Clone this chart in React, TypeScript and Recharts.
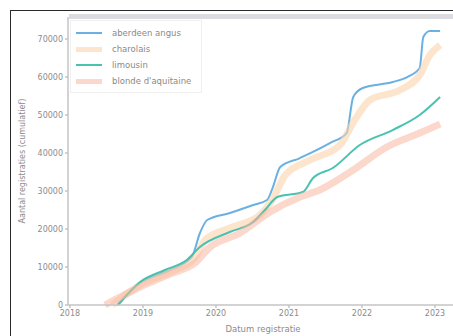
import React from 'react';
import { LineChart, Line, XAxis, YAxis } from 'recharts';

// series (decimal years, cumulative counts)
const angusYears = [2018.64, 2018.96, 2019.37, 2019.67, 2019.78, 2019.88, 2020.19, 2020.51, 2020.7, 2020.78, 2020.88, 2021.15, 2021.56, 2021.79, 2021.88, 2022.01, 2022.42, 2022.62, 2022.79, 2022.84, 2022.93, 2023.07];
const angusValues = [0, 5790, 9210, 12630, 18950, 22370, 24210, 26320, 27630, 31050, 36320, 38680, 42630, 45260, 54740, 57110, 58680, 60000, 62370, 70530, 72110, 72110];

const charolaisYears = [2018.58, 2018.96, 2019.37, 2019.71, 2019.85, 2020.19, 2020.6, 2020.77, 2020.95, 2021.29, 2021.7, 2021.9, 2022.11, 2022.52, 2022.79, 2022.93, 2023.07];
const charolaisValues = [0, 5260, 8680, 12370, 17110, 20260, 23680, 27630, 34210, 38160, 42110, 48680, 53950, 56580, 60530, 65790, 68420];

const limousinYears = [2018.66, 2018.96, 2019.3, 2019.6, 2019.78, 2020.19, 2020.51, 2020.67, 2020.84, 2021.19, 2021.33, 2021.6, 2021.97, 2022.42, 2022.79, 2023.07];
const limousinValues = [0, 6050, 9210, 11840, 15260, 19210, 21840, 25000, 28420, 29740, 33420, 36050, 42110, 46050, 50000, 54740];

const blondeYears = [2018.48, 2018.96, 2019.37, 2019.71, 2019.92, 2020.33, 2020.74, 2021.15, 2021.42, 2021.88, 2022.34, 2022.79, 2023.07];
const blondeValues = [0, 4740, 8160, 11050, 15260, 18950, 24470, 28420, 30260, 35530, 41580, 45260, 47630];

const xTicks = [2018, 2019, 2020, 2021, 2022, 2023];
const yTicks = [0, 10000, 20000, 30000, 40000, 50000, 60000, 70000];

const toPoints = (xs: number[], ys: number[]) => xs.map((x, i) => ({ x, y: ys[i] }));

const SERIES = [
  { name: 'aberdeen angus', data: toPoints(angusYears, angusValues), color: '#62ace0', width: 2, opacity: 0.95 },
  { name: 'charolais', data: toPoints(charolaisYears, charolaisValues), color: '#fcd3ab', width: 7, opacity: 0.6 },
  { name: 'limousin', data: toPoints(limousinYears, limousinValues), color: '#3fbfad', width: 2, opacity: 0.95 },
  { name: "blonde d'aquitaine", data: toPoints(blondeYears, blondeValues), color: '#f8b7a2', width: 7, opacity: 0.55 },
];

const FONT = '"DejaVu Sans", sans-serif';
const TICK = { fontSize: 8, fill: '#8c8c8c', fontFamily: FONT };

function LegendBox() {
  return (
    <div
      style={{
        position: 'absolute',
        left: 70,
        top: 20,
        border: '1px solid #f0f0f0',
        background: 'rgba(255,255,255,0.85)',
        padding: '4px 10px 3px 5px',
        fontFamily: FONT,
        fontSize: 8.5,
        color: '#8a8a8a',
      }}
    >
      {SERIES.map((s) => (
        <div key={s.name} style={{ display: 'flex', alignItems: 'center', height: 16 }}>
          <span
            style={{
              width: 26,
              height: s.width > 3 ? 5 : 2,
              background: s.color,
              opacity: s.opacity,
              marginRight: 10,
              display: 'inline-block',
            }}
          />
          {s.name}
        </div>
      ))}
    </div>
  );
}

export default function App() {
  return (
    <div style={{ position: 'absolute', left: 0, top: 0, width: 453, height: 336, overflow: 'hidden', background: '#fff' }}>
      <div style={{ position: 'absolute', left: 10, top: 10, right: 0, bottom: 0, borderLeft: '1.5px solid #2a2a2a', borderTop: '1.5px solid #2a2a2a' }} />
      <div style={{ position: 'absolute', left: 69, top: 14, right: 0, height: 5, background: '#dcdce0' }} />
      <LineChart width={460} height={336} margin={{ top: 17, right: 2, left: 10, bottom: 0 }} style={{ position: 'absolute', left: 0, top: 0 }}>
        <XAxis
          type="number"
          dataKey="x"
          domain={[2017.973, 2023.315]}
          ticks={xTicks}
          allowDataOverflow
          height={31}
          tick={TICK}
          tickSize={3}
          stroke="#c4c4c4"
          strokeWidth={1.5}
          label={{ value: 'Datum registratie', position: 'insideBottom', offset: 4, style: { ...TICK, fontSize: 8.5 } }}
        />
        <YAxis
          type="number"
          dataKey="y"
          domain={[0, 75800]}
          ticks={yTicks}
          width={58}
          tick={TICK}
          tickSize={3}
          stroke="#c4c4c4"
          strokeWidth={1.5}
          label={{
            content: ({ viewBox }: any) => {
              const cx = viewBox.x + 12;
              const cy = viewBox.y + viewBox.height / 2;
              return (
                <text x={cx} y={cy} transform={`rotate(-90 ${cx} ${cy})`} textAnchor="middle" dominantBaseline="middle" style={{ ...TICK, fontSize: 8 }}>
                  Aantal registraties (cumulatief)
                </text>
              );
            },
          }}
        />
        {SERIES.map((s) => (
          <Line
            key={s.name}
            data={s.data}
            dataKey="y"
            name={s.name}
            type="monotone"
            stroke={s.color}
            strokeWidth={s.width}
            strokeOpacity={s.opacity}
            dot={false}
            isAnimationActive={false}
          />
        ))}
      </LineChart>
      <LegendBox />
    </div>
  );
}
